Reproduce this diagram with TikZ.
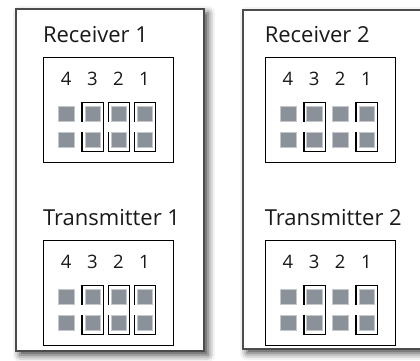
\documentclass[tikz,border=0pt]{standalone}
\usepackage{fontspec}
\setmainfont{Open Sans}
\usetikzlibrary{shadows.blur}
\definecolor{pinfill}{HTML}{8A9198}
\definecolor{pinedge}{HTML}{C4C8CC}

\begin{document}
\begin{tikzpicture}[x=1pt,y=1pt,semithick]
\tikzstyle{panel}=[draw=black!70,line width=1.2pt,fill=white,inner sep=0pt,
  blur shadow={shadow xshift=4pt,shadow yshift=-4pt,shadow blur radius=7pt,shadow opacity=75}]
\tikzstyle{header}=[draw=black,line width=1.3pt,minimum width=130pt,minimum height=104.5pt,
  anchor=north west,inner sep=0pt]
\tikzstyle{title}=[anchor=base west,inner sep=0pt,text=black!90,font=\fontsize{22}{22}\selectfont]
\tikzstyle{pinnum}=[anchor=base,inner sep=0pt,text=black!90,font=\fontsize{18.5}{19}\selectfont]
\tikzstyle{pin}=[draw=pinedge,fill=pinfill,line width=1pt,minimum size=15.5pt,inner sep=0pt,outer sep=0pt]
\tikzstyle{jumper}=[draw=black,line width=1.3pt]
\useasboundingbox (0,0) rectangle (420,360);

\node[panel,minimum width=188pt,minimum height=342pt] (left) at (110,180) {};
\node[panel,minimum width=202pt,minimum height=339pt] (right) at (344,180.5) {};

\foreach \b/\x/\y/\lbl in {r1/42.7/303/Receiver 1,t1/42.7/120/Transmitter 1,
                           r2/264.5/303/Receiver 2,t2/264.5/120/Transmitter 2} {
  \node[header] (\b) at (\x,\y) {};
  \node[title] (\b-title) at ([shift={(0,15)}]\b.north west) {\lbl};
  \foreach \k/\n in {0/4,1/3,2/2,3/1} {
    \node[pinnum] (\b-\n-num) at ([shift={({23.5+\k*26.1},-28.5)}]\b.north west) {\n};
    \node[pin] (\b-\n-top) at ([shift={({24+\k*26.1},-57)}]\b.north west) {};
    \node[pin] (\b-\n-bot) at ([shift={({24+\k*26.1},-83)}]\b.north west) {};
  }
}

\foreach \b/\n in {r1/3,r1/2,r1/1,t1/3,t1/2,t1/1,r2/3,r2/1,t2/3,t2/1}
  \draw[jumper] ([xshift=-3pt]\b-\n-top.south west) |- ([shift={(3,4)}]\b-\n-top.north east)
    |- ([shift={(-3,-4)}]\b-\n-bot.south west) -- ([xshift=-3pt]\b-\n-bot.north west);

\end{tikzpicture}
\end{document}
